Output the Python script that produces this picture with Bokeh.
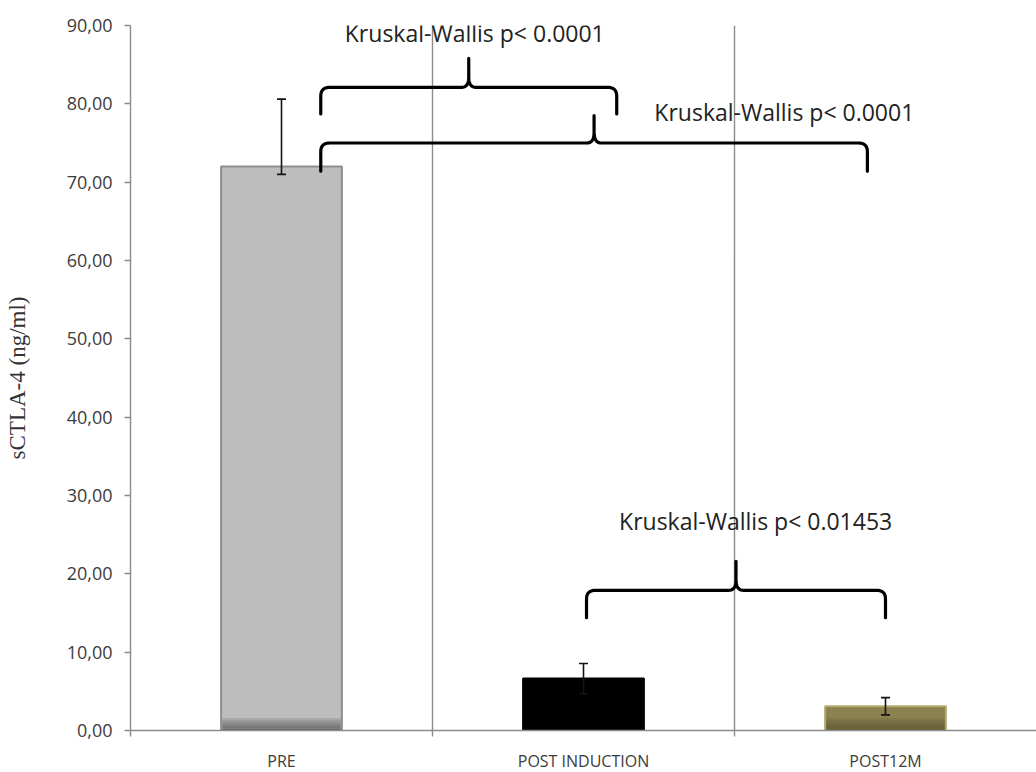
import numpy as np
from bokeh.plotting import figure
from bokeh.models import (ColumnDataSource, FixedTicker, Label, Whisker, TeeHead, Range1d)
from bokeh.embed import file_html
from bokeh.resources import INLINE

# ---- data -------------------------------------------------------------
categories = ["PRE", "POST INDUCTION", "POST12M"]
means = [72.0, 6.65, 3.1]
err_low = [71.0, 4.7, 2.0]
err_high = [80.6, 8.55, 4.2]
y_ticks = [0, 10, 20, 30, 40, 50, 60, 70, 80, 90]
y_tick_labels = ["0,00", "10,00", "20,00", "30,00", "40,00",
                 "50,00", "60,00", "70,00", "80,00", "90,00"]

# pairwise comparisons: (from category, to category, p-value text)
comparisons = [
    (0, 1, "Kruskal-Wallis p< 0.0001"),
    (0, 2, "Kruskal-Wallis p< 0.0001"),
    (1, 2, "Kruskal-Wallis p< 0.01453"),
]

# ---- styling ------------------------------------------------------------
bar_fill = ["#bdbdbd", "#000000", "#8c8250"]
bar_line = ["#8e8e8e", "#000000", "#b3aa72"]
bar_shade = ["#5e5e5e", "#000000", "#5e5630"]
AXIS_GREY = "#8c8c8c"
TEXT_GREY = "#3c3c3c"
ERR_COLOR = "#141414"
FONT = "Open Sans"

x = np.arange(len(categories))
BAR_W = 0.4

p = figure(frame_width=906, frame_height=705,
           x_range=Range1d(-0.5, 2.5), y_range=Range1d(0, 90),
           output_backend="svg", toolbar_location=None,
           min_border_left=130, min_border_top=25,
           min_border_right=0, min_border_bottom=42,
           background_fill_color="white", border_fill_color="white")
p.outline_line_color = None

# bars
src = ColumnDataSource(dict(x=x, top=means, fill=bar_fill, line=bar_line,
                            shade=bar_shade, lo=err_low, hi=err_high))
p.vbar(x="x", top="top", bottom=0, width=BAR_W, source=src,
       fill_color="fill", line_color="line", line_width=2)

# darker band along the foot of each bar (gradient look)
band = 1.6
steps = 6
for i in range(steps):
    b0 = band * i / steps
    b1 = band * (i + 1) / steps
    alpha = 0.9 * (1 - i / steps) ** 0.8
    p.quad(left=x - BAR_W / 2 + 0.004, right=x + BAR_W / 2 - 0.004,
           bottom=np.minimum(b0, np.array(means)),
           top=np.minimum(b1, np.array(means)),
           fill_color=bar_shade, fill_alpha=alpha, line_color=None)

# error bars
p.add_layout(Whisker(source=src, base="x", lower="lo", upper="hi",
                     dimension="height", line_color=ERR_COLOR, line_width=1.6,
                     level="overlay",
                     upper_head=TeeHead(size=9, line_color=ERR_COLOR, line_width=1.6),
                     lower_head=TeeHead(size=9, line_color=ERR_COLOR, line_width=1.6)))


def brace(x0, x1, y_tip, y_h, y_peak, rx=0.03, ry=1.1, n=12):
    """Curly brace opening downward: ends hang down to y_tip, spike up to y_peak."""
    xm = (x0 + x1) / 2
    t = np.linspace(0, 1, n)

    def qbez(p0, c, p1):
        return ((1 - t) ** 2 * p0[0] + 2 * (1 - t) * t * c[0] + t ** 2 * p1[0],
                (1 - t) ** 2 * p0[1] + 2 * (1 - t) * t * c[1] + t ** 2 * p1[1])

    xs, ys = [x0], [y_tip]
    cx, cy = qbez((x0, y_h - ry), (x0, y_h), (x0 + rx, y_h))
    xs += list(cx); ys += list(cy)
    cx, cy = qbez((xm - rx * 0.8, y_h), (xm, y_h), (xm, y_h + ry * 1.2))
    xs += list(cx); ys += list(cy)
    xs.append(xm); ys.append(y_peak)
    cx, cy = qbez((xm, y_h + ry * 1.2), (xm, y_h), (xm + rx * 0.8, y_h))
    xs += list(cx); ys += list(cy)
    cx, cy = qbez((x1 - rx, y_h), (x1, y_h), (x1, y_h - ry))
    xs += list(cx); ys += list(cy)
    xs.append(x1); ys.append(y_tip)
    return xs, ys


# bracket layout per comparison: end offsets, heights, label placement
brace_layout = [
    dict(dx0=0.13, dx1=0.11, tip=78.7, h=82.1, peak=85.8, lx=0.64, ly=89.1),
    dict(dx0=0.13, dx1=-0.06, tip=71.4, h=75.0, peak=78.5, lx=1.665, ly=78.9),
    dict(dx0=0.01, dx1=0.0, tip=14.4, h=17.9, peak=21.6, lx=1.57, ly=26.8),
]

for (a, b, txt), lay in zip(comparisons, brace_layout):
    xs, ys = brace(x[a] + lay["dx0"], x[b] + lay["dx1"], lay["tip"], lay["h"], lay["peak"])
    p.line(xs, ys, line_color="black", line_width=3.2, line_join="round", line_cap="round")
    p.add_layout(Label(x=lay["lx"], y=lay["ly"], text=txt, text_align="center",
                       text_baseline="alphabetic", text_font=FONT,
                       text_font_size="23px", text_color="#222222"))

# grid: only vertical category separators
p.ygrid.grid_line_color = None
p.xgrid.ticker = FixedTicker(ticks=[0.5, 1.5])
p.xgrid.grid_line_color = AXIS_GREY
p.xgrid.grid_line_width = 1.4

# x axis
xa = p.xaxis[0]
xa.ticker = FixedTicker(ticks=list(x), minor_ticks=[-0.5, 0.5, 1.5])
xa.major_label_overrides = {int(i): c for i, c in zip(x, categories)}
xa.major_tick_out = 0
xa.major_tick_in = 0
xa.minor_tick_out = 6
xa.minor_tick_in = 0
xa.minor_tick_line_color = AXIS_GREY
xa.minor_tick_line_width = 1.4
xa.axis_line_color = AXIS_GREY
xa.axis_line_width = 1.4
xa.major_label_standoff = 13
xa.major_label_text_font = FONT
xa.major_label_text_font_size = "16px"
xa.major_label_text_color = TEXT_GREY

# y axis
ya = p.yaxis[0]
ya.ticker = FixedTicker(ticks=y_ticks)
ya.major_label_overrides = {t: lab for t, lab in zip(y_ticks, y_tick_labels)}
ya.major_tick_out = 6
ya.major_tick_in = 0
ya.major_tick_line_color = AXIS_GREY
ya.major_tick_line_width = 1.4
ya.minor_tick_line_color = None
ya.axis_line_color = AXIS_GREY
ya.axis_line_width = 1.4
ya.major_label_standoff = 12
ya.major_label_text_font = FONT
ya.major_label_text_font_size = "18px"
ya.major_label_text_color = TEXT_GREY
ya.axis_label = "sCTLA-4 (ng/ml)"
ya.axis_label_text_font = "Liberation Serif"
ya.axis_label_text_font_style = "normal"
ya.axis_label_text_font_size = "23px"
ya.axis_label_text_color = "#333333"
ya.axis_label_standoff = 34

open("out.html", "w").write(file_html(p, INLINE))
